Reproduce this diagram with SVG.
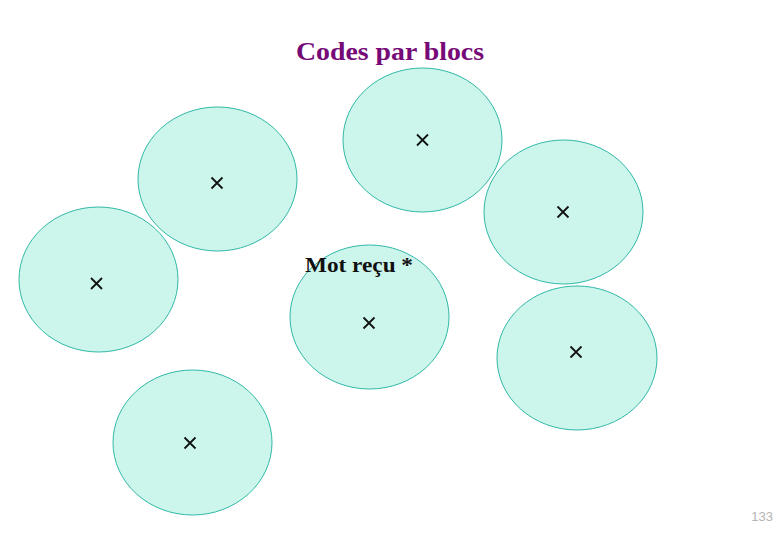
<svg xmlns="http://www.w3.org/2000/svg" width="780" height="540" viewBox="0 0 780 540">
<style>
.ball{fill:#ccf6ec;stroke:#30b8a6;stroke-width:1}
.x{stroke:#111;stroke-width:1.8;fill:none}
.title{font-family:"Liberation Serif",serif;font-weight:bold;font-size:26px;fill:#760a76}
.lbl{font-family:"Liberation Serif",serif;font-weight:bold;font-size:22px;fill:#111}
.pg{font-family:"Liberation Sans",sans-serif;font-size:13px;fill:#b4b4b4}
</style>
<defs>
<path id="cross" class="x" d="M-5.5,-5.5L5.5,5.5M5.5,-5.5L-5.5,5.5"/>
</defs>
<rect width="780" height="540" fill="#fff"/>
<text class="title" x="296" y="60" textLength="188" lengthAdjust="spacingAndGlyphs">Codes par blocs</text>
<g id="b1"><ellipse class="ball" cx="422.5" cy="140" rx="79.5" ry="72"/><use href="#cross" x="422.5" y="140"/></g>
<g id="b2"><ellipse class="ball" cx="217.5" cy="179" rx="79.5" ry="72"/><use href="#cross" x="217" y="183"/></g>
<g id="b3"><ellipse class="ball" cx="563.5" cy="212" rx="79.5" ry="72"/><use href="#cross" x="563" y="212"/></g>
<g id="b4"><ellipse class="ball" cx="98.5" cy="279.5" rx="79.5" ry="72.5"/><use href="#cross" x="96.5" y="283.5"/></g>
<g id="b5"><ellipse class="ball" cx="369.5" cy="317" rx="79.5" ry="72"/><use href="#cross" x="369" y="323"/></g>
<g id="b6"><ellipse class="ball" cx="577" cy="358" rx="80" ry="72"/><use href="#cross" x="576" y="352"/></g>
<g id="b7"><ellipse class="ball" cx="192.5" cy="442.5" rx="79.5" ry="72.5"/><use href="#cross" x="190" y="443"/></g>
<text class="lbl" x="305" y="272" textLength="108" lengthAdjust="spacingAndGlyphs">Mot reçu *</text>
<text class="pg" x="773" y="521" text-anchor="end">133</text>
<g id="connectors"/>
</svg>
